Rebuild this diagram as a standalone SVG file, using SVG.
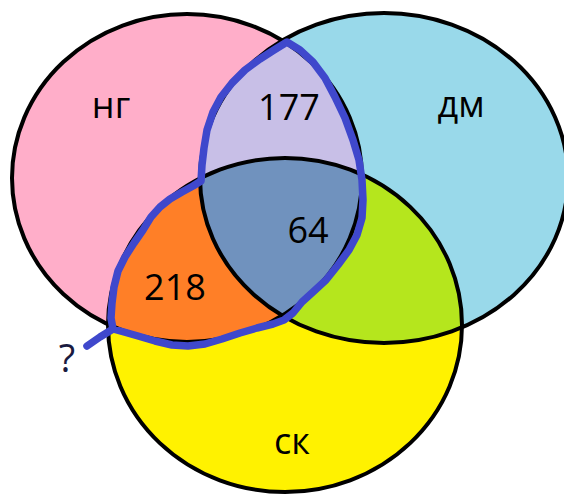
<svg xmlns="http://www.w3.org/2000/svg" width="564" height="494" viewBox="0 0 564 494">
  <style>
    .lbl { font-family: "Open Sans", "Liberation Sans", sans-serif; font-size: 36px; fill: #000; text-anchor: middle; }
    .edge { fill: none; stroke: #000; stroke-width: 4; }
    .hl { fill: none; stroke: #3F48CC; stroke-width: 7.5; stroke-linejoin: round; stroke-linecap: round; }
  </style>
  <defs>
    <ellipse id="ePink" cx="187" cy="178" rx="175" ry="164"/>
    <ellipse id="eBlue" cx="384" cy="178" rx="184" ry="165"/>
    <ellipse id="eYellow" cx="285" cy="325" rx="177" ry="167"/>
    <clipPath id="cPink"><use href="#ePink"/></clipPath>
    <clipPath id="cBlue"><use href="#eBlue"/></clipPath>
  </defs>
  <rect width="564" height="494" fill="#fff"/>

  <g id="set-ng">
    <use href="#ePink" fill="#FFAEC9"/>
  </g>
  <g id="set-dm">
    <use href="#eBlue" fill="#99D9EA"/>
  </g>
  <g id="set-sk">
    <use href="#eYellow" fill="#FFF200"/>
  </g>
  <g id="ng-dm" clip-path="url(#cPink)">
    <use href="#eBlue" fill="#C8BFE7"/>
  </g>
  <g id="ng-sk" clip-path="url(#cPink)">
    <use href="#eYellow" fill="#FF7F27"/>
  </g>
  <g id="dm-sk" clip-path="url(#cBlue)">
    <use href="#eYellow" fill="#B5E61D"/>
  </g>
  <g id="all" clip-path="url(#cPink)">
    <g clip-path="url(#cBlue)">
      <use href="#eYellow" fill="#7092BE"/>
    </g>
  </g>
  <g id="edges">
    <use href="#ePink" class="edge"/>
    <use href="#eBlue" class="edge"/>
    <use href="#eYellow" class="edge"/>
  </g>

  <g id="labels">
    <text class="lbl" x="111" y="118">нг</text>
    <text class="lbl" x="461" y="117">дм</text>
    <text class="lbl" x="292" y="454">ск</text>
    <text class="lbl" x="289" y="120">177</text>
    <text class="lbl" x="308" y="243">64</text>
    <text class="lbl" x="175" y="300">218</text>
  </g>

  <g id="connectors">
    <path class="hl" d="M287,42 L300,50 L313,62 L325,78 L335,97 L345,118 L353,140 L359,160 L362,180 L363,200 L362,218 L357,235 L349,250 L338,265 L326,280 L313,292 L302,302 L293,313 L284,320 L273,324 L257,328 L240,333 L222,339 L205,344 L188,346 L172,345 L155,341 L138,336 L124,332 L113,329 L111,318 L112,303 L114,287 L118,271 L125,257 L134,243 L143,230 L151,217 L160,207 L170,199 L182,192 L193,186 L201,181 L202,165 L204,148 L207,130 L213,112 L221,97 L232,83 L245,70 L260,59 L274,50 Z"/>
    <path class="hl" d="M113,329 L100,337 L87,346"/>
  </g>
  <g id="question">
    <text class="lbl" x="67" y="372" style="fill:#1a1a40; font-size:38px">?</text>
  </g>
</svg>
